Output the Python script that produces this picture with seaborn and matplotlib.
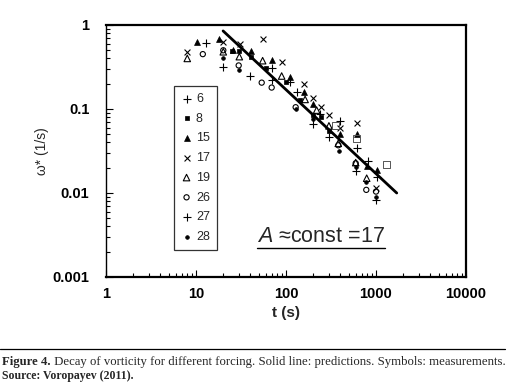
import matplotlib
matplotlib.use('Agg')
import matplotlib.pyplot as plt
import seaborn as sns
import numpy as np
import pandas as pd
from matplotlib.lines import Line2D

# measured decay of vorticity, one pair of arrays per forcing run (t in s, omega* in 1/s)
t_6 = [12.9, 20.1, 39.8, 70.4, 131, 239, 398, 611, 809, 1018]
w_6 = [0.61, 0.32, 0.25, 0.305, 0.16, 0.087, 0.071, 0.034, 0.024, 0.0154]

t_8 = [24.9, 30, 41, 59.5, 99, 143, 198, 245, 300]
w_8 = [0.49, 0.49, 0.42, 0.305, 0.21, 0.128, 0.085, 0.080, 0.054]

t_15 = [10.2, 18.2, 25.9, 41, 70.4, 111, 160, 201, 398, 611, 800, 1018]
w_15 = [0.62, 0.69, 0.50, 0.49, 0.38, 0.243, 0.16, 0.114, 0.050, 0.05, 0.021, 0.019]

t_17 = [8.0, 20.1, 30.8, 55, 89.5, 160, 201, 245, 300, 398, 611, 1000]
w_17 = [0.48, 0.63, 0.59, 0.69, 0.366, 0.20, 0.134, 0.105, 0.085, 0.059, 0.068, 0.0114]

t_19 = [8.0, 20.1, 30.3, 55, 89.5, 163, 219, 300, 381, 595, 788]
w_19 = [0.40, 0.48, 0.42, 0.376, 0.247, 0.13, 0.097, 0.063, 0.039, 0.023, 0.015]

t_26 = [11.9, 20.1, 29.8, 53.7, 69.3, 128, 381, 595, 780, 1000]
w_26 = [0.45, 0.50, 0.33, 0.206, 0.18, 0.105, 0.037, 0.0226, 0.0109, 0.0104]

t_27 = [69.3, 111, 198, 300, 595, 1000]
w_27 = [0.22, 0.21, 0.066, 0.047, 0.0184, 0.0083]

t_28 = [19.8, 30.3, 128, 198, 388, 595, 780, 1000]
w_28 = [0.41, 0.29, 0.10, 0.075, 0.032, 0.0202, 0.0136, 0.009]

# open squares that have no legend entry
t_sq = [359, 611, 1315]
w_sq = [0.064, 0.045, 0.0216]

# prediction line (A ~ 17), end points
line_t = [20, 1700]
line_w = [0.85, 0.01]

sns.set_style('ticks')
plt.rcParams['font.family'] = ['Liberation Sans', 'DejaVu Sans']
plt.rcParams['mathtext.fontset'] = 'custom'
plt.rcParams['mathtext.it'] = 'Liberation Sans:italic'
plt.rcParams['mathtext.rm'] = 'Liberation Sans'

fig = plt.figure(figsize=(5.15, 3.85), dpi=100)
ax = fig.add_axes([106 / 515, 1 - 277 / 385, 360 / 515, 252 / 385])

# label, t, w, marker, size, hollow
series = [
    ('6', t_6, w_6, '+', 32, False),
    ('8', t_8, w_8, 's', 10, False),
    ('15', t_15, w_15, '^', 18, False),
    ('17', t_17, w_17, 'x', 18, False),
    ('19', t_19, w_19, '^', 22, True),
    ('26', t_26, w_26, 'o', 14, True),
    ('27', t_27, w_27, '+', 32, False),
    ('28', t_28, w_28, 'o', 7, False),
]

for label, t, w, m, s, hollow in series:
    df = pd.DataFrame({'t': t, 'w': w})
    if m in ('+', 'x'):
        sns.scatterplot(data=df, x='t', y='w', marker=m, s=s, color='black',
                        linewidths=0.8, ax=ax, label=label, zorder=3)
    elif hollow:
        sns.scatterplot(data=df, x='t', y='w', marker=m, s=s, color='black',
                        facecolor='none', edgecolor='black', linewidth=0.8,
                        ax=ax, label=label, zorder=3)
    else:
        sns.scatterplot(data=df, x='t', y='w', marker=m, s=s, color='black',
                        edgecolor='black', linewidth=0.5, ax=ax, label=label, zorder=3)

sq = pd.DataFrame({'t': t_sq, 'w': w_sq})
sns.scatterplot(data=sq, x='t', y='w', marker='s', s=26, color='black',
                facecolor='none', edgecolor='#555555', linewidth=0.7, ax=ax, zorder=3)

pred = pd.DataFrame({'t': line_t, 'w': line_w})
sns.lineplot(data=pred, x='t', y='w', color='black', linewidth=2, ax=ax, zorder=2)

ax.set_xscale('log')
ax.set_yscale('log')
ax.set_xlim(1, 10000)
ax.set_ylim(0.001, 1)
ax.set_xticks([1, 10, 100, 1000, 10000])
ax.set_xticklabels(['1', '10', '100', '1000', '10000'])
ax.set_yticks([0.001, 0.01, 0.1, 1])
ax.set_yticklabels(['0.001', '0.01', '0.1', '1'])
ax.tick_params(axis='both', which='both', direction='in', top=False, right=False,
               labelsize=10.5, width=0.8, colors='black')
ax.tick_params(axis='x', which='major', length=5, pad=7)
ax.tick_params(axis='y', which='major', length=5, pad=12)
ax.tick_params(axis='both', which='minor', length=3)
for lab in ax.get_xticklabels() + ax.get_yticklabels():
    lab.set_fontweight('bold')

for side in ['top', 'right', 'bottom']:
    ax.spines[side].set_visible(True)
    ax.spines[side].set_linewidth(1.6)
    ax.spines[side].set_color('black')
ax.spines['left'].set_linewidth(1.0)
ax.spines['left'].set_color('black')

ax.set_xlabel('t (s)', fontsize=11, fontweight='bold', labelpad=4)
ax.set_ylabel('ω* (1/s)', fontsize=10)
ax.yaxis.set_label_coords(-0.158, 0.5)

leg = ax.legend(loc='upper left', bbox_to_anchor=(0.189, 0.758), borderaxespad=0,
                fontsize=9, frameon=True, fancybox=False, edgecolor='black',
                labelspacing=0.62, handlelength=0.9, handletextpad=0.3,
                borderpad=0.55)
leg.get_frame().set_linewidth(0.9)

txt = ax.text(0.597, 0.16, r'$\mathit{A}$ ≈const =17', transform=ax.transAxes,
              fontsize=15.5, ha='center', va='center')

# caption rule and text
fig.add_artist(Line2D([0, 505 / 515], [1 - 349 / 385] * 2, color='black', linewidth=0.9))
cap1 = fig.text(0.004, 1 - 362 / 385, 'Figure 4.', fontsize=9.2, fontweight='bold',
                family='Liberation Serif', va='center')
ax.annotate(' Decay of vorticity for different forcing. Solid line: predictions. Symbols: measurements.',
            xy=(1, 0), xycoords=cap1, va='bottom', fontsize=9.2, family='Liberation Serif',
            annotation_clip=False)
fig.text(0.004, 1 - 376 / 385, 'Source: Voropayev (2011).', fontsize=8.5, fontweight='bold',
         family='Liberation Serif', va='center')

# underline for the annotation
fig.canvas.draw()
bb = txt.get_window_extent()
fig.add_artist(Line2D([bb.x0, bb.x1], [bb.y0 - 1, bb.y0 - 1], color='black',
                      linewidth=1.0, transform=None))

fig.savefig('out.png', dpi=100)
